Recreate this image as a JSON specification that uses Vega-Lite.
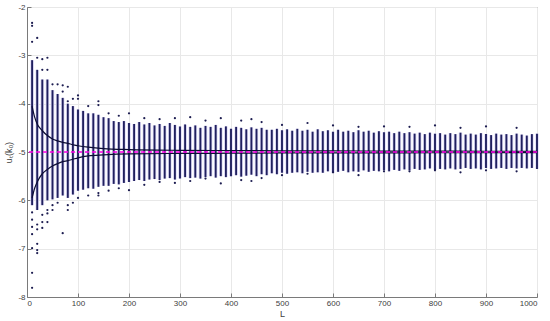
{
  "$schema": "https://vega.github.io/schema/vega-lite/v6.json",
  "width": 510,
  "height": 290,
  "autosize": {"type": "none"},
  "padding": {"left": 27, "top": 7, "right": 13, "bottom": 24},
  "background": "white",
  "config": {
    "view": {"stroke": "#7a7a7a", "strokeWidth": 1},
    "font": "Liberation Sans",
    "axis": {
      "gridColor": "#e8e8e8", "gridWidth": 1, "domainColor": "#7a7a7a", "tickColor": "#7a7a7a",
      "labelColor": "#404040", "labelFontSize": 8, "titleColor": "#404040", "titleFontSize": 9, "titleFontWeight": "normal"
    }
  },
  "datasets": {
    "cols": [
      {"L":10,"hi":-3.1,"lo":-6.1},{"L":20,"hi":-3.3,"lo":-6.2},{"L":30,"hi":-3.5,"lo":-6.1},{"L":40,"hi":-3.5,"lo":-6.0},
      {"L":50,"hi":-3.72,"lo":-5.98},{"L":60,"hi":-3.8,"lo":-5.95},{"L":70,"hi":-3.88,"lo":-5.9},{"L":80,"hi":-4.0,"lo":-5.95},
      {"L":90,"hi":-4.05,"lo":-5.88},{"L":100,"hi":-4.12,"lo":-5.8},{"L":110,"hi":-4.15,"lo":-5.78},{"L":120,"hi":-4.2,"lo":-5.75},
      {"L":130,"hi":-4.2,"lo":-5.76},{"L":140,"hi":-4.23,"lo":-5.72},{"L":150,"hi":-4.28,"lo":-5.7},{"L":160,"hi":-4.3,"lo":-5.7},
      {"L":170,"hi":-4.36,"lo":-5.66},{"L":180,"hi":-4.38,"lo":-5.67},{"L":190,"hi":-4.36,"lo":-5.64},{"L":200,"hi":-4.4,"lo":-5.62},
      {"L":210,"hi":-4.42,"lo":-5.6},{"L":220,"hi":-4.38,"lo":-5.58},{"L":230,"hi":-4.43,"lo":-5.6},{"L":240,"hi":-4.4,"lo":-5.57},
      {"L":250,"hi":-4.45,"lo":-5.56},{"L":260,"hi":-4.42,"lo":-5.58},{"L":270,"hi":-4.46,"lo":-5.55},{"L":280,"hi":-4.4,"lo":-5.54},
      {"L":290,"hi":-4.44,"lo":-5.57},{"L":300,"hi":-4.47,"lo":-5.55},{"L":310,"hi":-4.43,"lo":-5.52},{"L":320,"hi":-4.48,"lo":-5.54},
      {"L":330,"hi":-4.45,"lo":-5.53},{"L":340,"hi":-4.5,"lo":-5.55},{"L":350,"hi":-4.46,"lo":-5.52},{"L":360,"hi":-4.48,"lo":-5.5},
      {"L":370,"hi":-4.44,"lo":-5.53},{"L":380,"hi":-4.5,"lo":-5.5},{"L":390,"hi":-4.47,"lo":-5.52},{"L":400,"hi":-4.52,"lo":-5.5},
      {"L":410,"hi":-4.48,"lo":-5.48},{"L":420,"hi":-4.5,"lo":-5.51},{"L":430,"hi":-4.53,"lo":-5.49},{"L":440,"hi":-4.49,"lo":-5.47},
      {"L":450,"hi":-4.52,"lo":-5.5},{"L":460,"hi":-4.5,"lo":-5.46},{"L":470,"hi":-4.54,"lo":-5.48},{"L":480,"hi":-4.54,"lo":-5.44},
      {"L":490,"hi":-4.52,"lo":-5.46},{"L":500,"hi":-4.55,"lo":-5.43},{"L":510,"hi":-4.53,"lo":-5.45},{"L":520,"hi":-4.56,"lo":-5.43},
      {"L":530,"hi":-4.52,"lo":-5.42},{"L":540,"hi":-4.56,"lo":-5.44},{"L":550,"hi":-4.54,"lo":-5.41},{"L":560,"hi":-4.58,"lo":-5.43},
      {"L":570,"hi":-4.53,"lo":-5.42},{"L":580,"hi":-4.57,"lo":-5.43},{"L":590,"hi":-4.55,"lo":-5.4},{"L":600,"hi":-4.58,"lo":-5.43},
      {"L":610,"hi":-4.54,"lo":-5.41},{"L":620,"hi":-4.58,"lo":-5.39},{"L":630,"hi":-4.56,"lo":-5.42},{"L":640,"hi":-4.59,"lo":-5.4},
      {"L":650,"hi":-4.55,"lo":-5.41},{"L":660,"hi":-4.58,"lo":-5.38},{"L":670,"hi":-4.56,"lo":-5.41},{"L":680,"hi":-4.6,"lo":-5.39},
      {"L":690,"hi":-4.57,"lo":-5.4},{"L":700,"hi":-4.59,"lo":-5.38},{"L":710,"hi":-4.58,"lo":-5.4},{"L":720,"hi":-4.61,"lo":-5.37},
      {"L":730,"hi":-4.58,"lo":-5.39},{"L":740,"hi":-4.61,"lo":-5.36},{"L":750,"hi":-4.59,"lo":-5.38},{"L":760,"hi":-4.62,"lo":-5.35},
      {"L":770,"hi":-4.6,"lo":-5.37},{"L":780,"hi":-4.63,"lo":-5.36},{"L":790,"hi":-4.6,"lo":-5.34},{"L":800,"hi":-4.62,"lo":-5.37},
      {"L":810,"hi":-4.61,"lo":-5.35},{"L":820,"hi":-4.64,"lo":-5.36},{"L":830,"hi":-4.61,"lo":-5.34},{"L":840,"hi":-4.63,"lo":-5.36},
      {"L":850,"hi":-4.6,"lo":-5.35},{"L":860,"hi":-4.64,"lo":-5.33},{"L":870,"hi":-4.62,"lo":-5.35},{"L":880,"hi":-4.64,"lo":-5.34},
      {"L":890,"hi":-4.61,"lo":-5.36},{"L":900,"hi":-4.63,"lo":-5.33},{"L":910,"hi":-4.65,"lo":-5.35},{"L":920,"hi":-4.62,"lo":-5.34},
      {"L":930,"hi":-4.64,"lo":-5.33},{"L":940,"hi":-4.63,"lo":-5.35},{"L":950,"hi":-4.65,"lo":-5.33},{"L":960,"hi":-4.62,"lo":-5.34},
      {"L":970,"hi":-4.64,"lo":-5.33},{"L":980,"hi":-4.66,"lo":-5.34},{"L":990,"hi":-4.63,"lo":-5.33},{"L":1000,"hi":-4.62,"lo":-5.35}
    ],
    "pts": [
      {"L":10,"v":-2.33},{"L":10,"v":-2.39},{"L":10,"v":-2.72},{"L":10,"v":-6.25},{"L":10,"v":-6.4},{"L":10,"v":-6.55},{"L":10,"v":-6.7},{"L":10,"v":-6.99},{"L":10,"v":-7.5},{"L":10,"v":-7.81},
      {"L":20,"v":-2.64},{"L":20,"v":-3.05},{"L":20,"v":-6.5},{"L":20,"v":-6.6},{"L":20,"v":-6.9},{"L":20,"v":-7.03},{"L":20,"v":-7.09},
      {"L":30,"v":-3.08},{"L":30,"v":-3.3},{"L":30,"v":-6.3},{"L":30,"v":-6.45},{"L":30,"v":-6.57},
      {"L":40,"v":-3.05},{"L":40,"v":-3.3},{"L":40,"v":-6.2},{"L":40,"v":-6.27},{"L":40,"v":-6.45},
      {"L":50,"v":-3.6},{"L":50,"v":-6.1},{"L":50,"v":-6.2},
      {"L":60,"v":-3.6},{"L":60,"v":-6.05},
      {"L":70,"v":-3.62},{"L":70,"v":-3.75},{"L":70,"v":-6.68},
      {"L":80,"v":-3.65},{"L":80,"v":-3.95},{"L":80,"v":-6.1},{"L":80,"v":-6.2},
      {"L":90,"v":-3.9},{"L":90,"v":-6.05},
      {"L":100,"v":-3.83},{"L":100,"v":-3.9},{"L":100,"v":-5.95},
      {"L":120,"v":-4.05},{"L":120,"v":-5.9},
      {"L":140,"v":-3.95},{"L":140,"v":-4.03},{"L":140,"v":-5.85},{"L":140,"v":-5.9},
      {"L":160,"v":-4.2},{"L":160,"v":-5.8},
      {"L":180,"v":-4.25},{"L":180,"v":-5.75},
      {"L":200,"v":-4.2},{"L":200,"v":-5.79},
      {"L":230,"v":-4.3},{"L":230,"v":-5.68},
      {"L":260,"v":-4.32},{"L":260,"v":-5.62},
      {"L":290,"v":-4.3},{"L":290,"v":-5.64},
      {"L":320,"v":-4.28},{"L":320,"v":-5.6},
      {"L":350,"v":-4.35},{"L":350,"v":-5.55},
      {"L":380,"v":-4.3},{"L":380,"v":-5.65},
      {"L":420,"v":-4.35},{"L":420,"v":-5.58},
      {"L":440,"v":-4.32},{"L":440,"v":-5.6},
      {"L":460,"v":-4.38},{"L":460,"v":-5.54},
      {"L":500,"v":-4.44},{"L":500,"v":-5.48},
      {"L":550,"v":-4.4},{"L":550,"v":-5.45},
      {"L":600,"v":-4.45},{"L":600,"v":-5.42},
      {"L":650,"v":-4.48},{"L":650,"v":-5.48},
      {"L":700,"v":-4.47},{"L":700,"v":-5.4},
      {"L":750,"v":-4.48},{"L":750,"v":-5.4},
      {"L":800,"v":-4.45},{"L":800,"v":-5.38},
      {"L":850,"v":-4.5},{"L":850,"v":-5.42},
      {"L":900,"v":-4.47},{"L":900,"v":-5.38},
      {"L":960,"v":-4.5},{"L":960,"v":-5.4}
    ],
    "curves": [
      {"s":"up","L":10,"v":-4.05},{"s":"up","L":15,"v":-4.28},{"s":"up","L":20,"v":-4.42},{"s":"up","L":30,"v":-4.56},
      {"s":"up","L":40,"v":-4.66},{"s":"up","L":50,"v":-4.73},{"s":"up","L":60,"v":-4.77},{"s":"up","L":70,"v":-4.8},
      {"s":"up","L":80,"v":-4.82},{"s":"up","L":90,"v":-4.85},{"s":"up","L":100,"v":-4.87},{"s":"up","L":120,"v":-4.9},
      {"s":"up","L":150,"v":-4.93},{"s":"up","L":200,"v":-4.95},{"s":"up","L":300,"v":-4.965},{"s":"up","L":400,"v":-4.97},
      {"s":"up","L":500,"v":-4.975},{"s":"up","L":600,"v":-4.978},{"s":"up","L":700,"v":-4.98},{"s":"up","L":800,"v":-4.982},
      {"s":"up","L":900,"v":-4.984},{"s":"up","L":1000,"v":-4.985},
      {"s":"lo","L":10,"v":-5.95},{"s":"lo","L":15,"v":-5.75},{"s":"lo","L":20,"v":-5.62},{"s":"lo","L":30,"v":-5.45},
      {"s":"lo","L":40,"v":-5.36},{"s":"lo","L":50,"v":-5.29},{"s":"lo","L":60,"v":-5.24},{"s":"lo","L":70,"v":-5.2},
      {"s":"lo","L":80,"v":-5.18},{"s":"lo","L":90,"v":-5.15},{"s":"lo","L":100,"v":-5.12},{"s":"lo","L":120,"v":-5.08},
      {"s":"lo","L":150,"v":-5.06},{"s":"lo","L":200,"v":-5.04},{"s":"lo","L":300,"v":-5.03},{"s":"lo","L":400,"v":-5.025},
      {"s":"lo","L":500,"v":-5.02},{"s":"lo","L":600,"v":-5.02},{"s":"lo","L":700,"v":-5.018},{"s":"lo","L":800,"v":-5.016},
      {"s":"lo","L":900,"v":-5.015},{"s":"lo","L":1000,"v":-5.014}
    ]
  },
  "layer": [
    {
      "data": {"name": "cols"},
      "mark": {"type": "rule", "stroke": "#e2def9", "strokeWidth": 3.6},
      "encoding": {
        "x": {"field": "L", "type": "quantitative", "scale": {"domain": [0, 1000], "nice": false},
          "axis": {"title": "L", "values": [0,100,200,300,400,500,600,700,800,900,1000], "labelExpr": "'' + datum.value", "tickSize": -4, "labelPadding": 6, "titlePadding": 2, "grid": true}},
        "y": {"field": "hi", "type": "quantitative", "scale": {"domain": [-8, -2], "nice": false},
          "axis": {"title": "uₜ(k₀)", "values": [-8,-7,-6,-5,-4,-3,-2], "labelExpr": "'' + datum.value", "tickSize": -4, "labelPadding": 6, "titlePadding": 4, "grid": true}},
        "y2": {"field": "lo"}
      }
    },
    {
      "data": {"name": "cols"},
      "mark": {"type": "rule", "stroke": "#20205f", "strokeWidth": 1.9},
      "encoding": {
        "x": {"field": "L", "type": "quantitative"},
        "y": {"field": "hi", "type": "quantitative"},
        "y2": {"field": "lo"}
      }
    },
    {
      "data": {"name": "pts"},
      "mark": {"type": "circle", "color": "#1c1c50", "size": 5, "opacity": 1},
      "encoding": {
        "x": {"field": "L", "type": "quantitative"},
        "y": {"field": "v", "type": "quantitative"}
      }
    },
    {
      "data": {"name": "curves"},
      "mark": {"type": "line", "color": "#0c0c33", "strokeWidth": 1.2, "interpolate": "monotone"},
      "encoding": {
        "x": {"field": "L", "type": "quantitative"},
        "y": {"field": "v", "type": "quantitative"},
        "detail": {"field": "s"}
      }
    },
    {
      "data": {"values": [{"v": -5}]},
      "mark": {"type": "rule", "stroke": "#ff00e6", "strokeWidth": 1.5, "strokeDash": [4, 3]},
      "encoding": {"y": {"field": "v", "type": "quantitative"}}
    }
  ]
}
